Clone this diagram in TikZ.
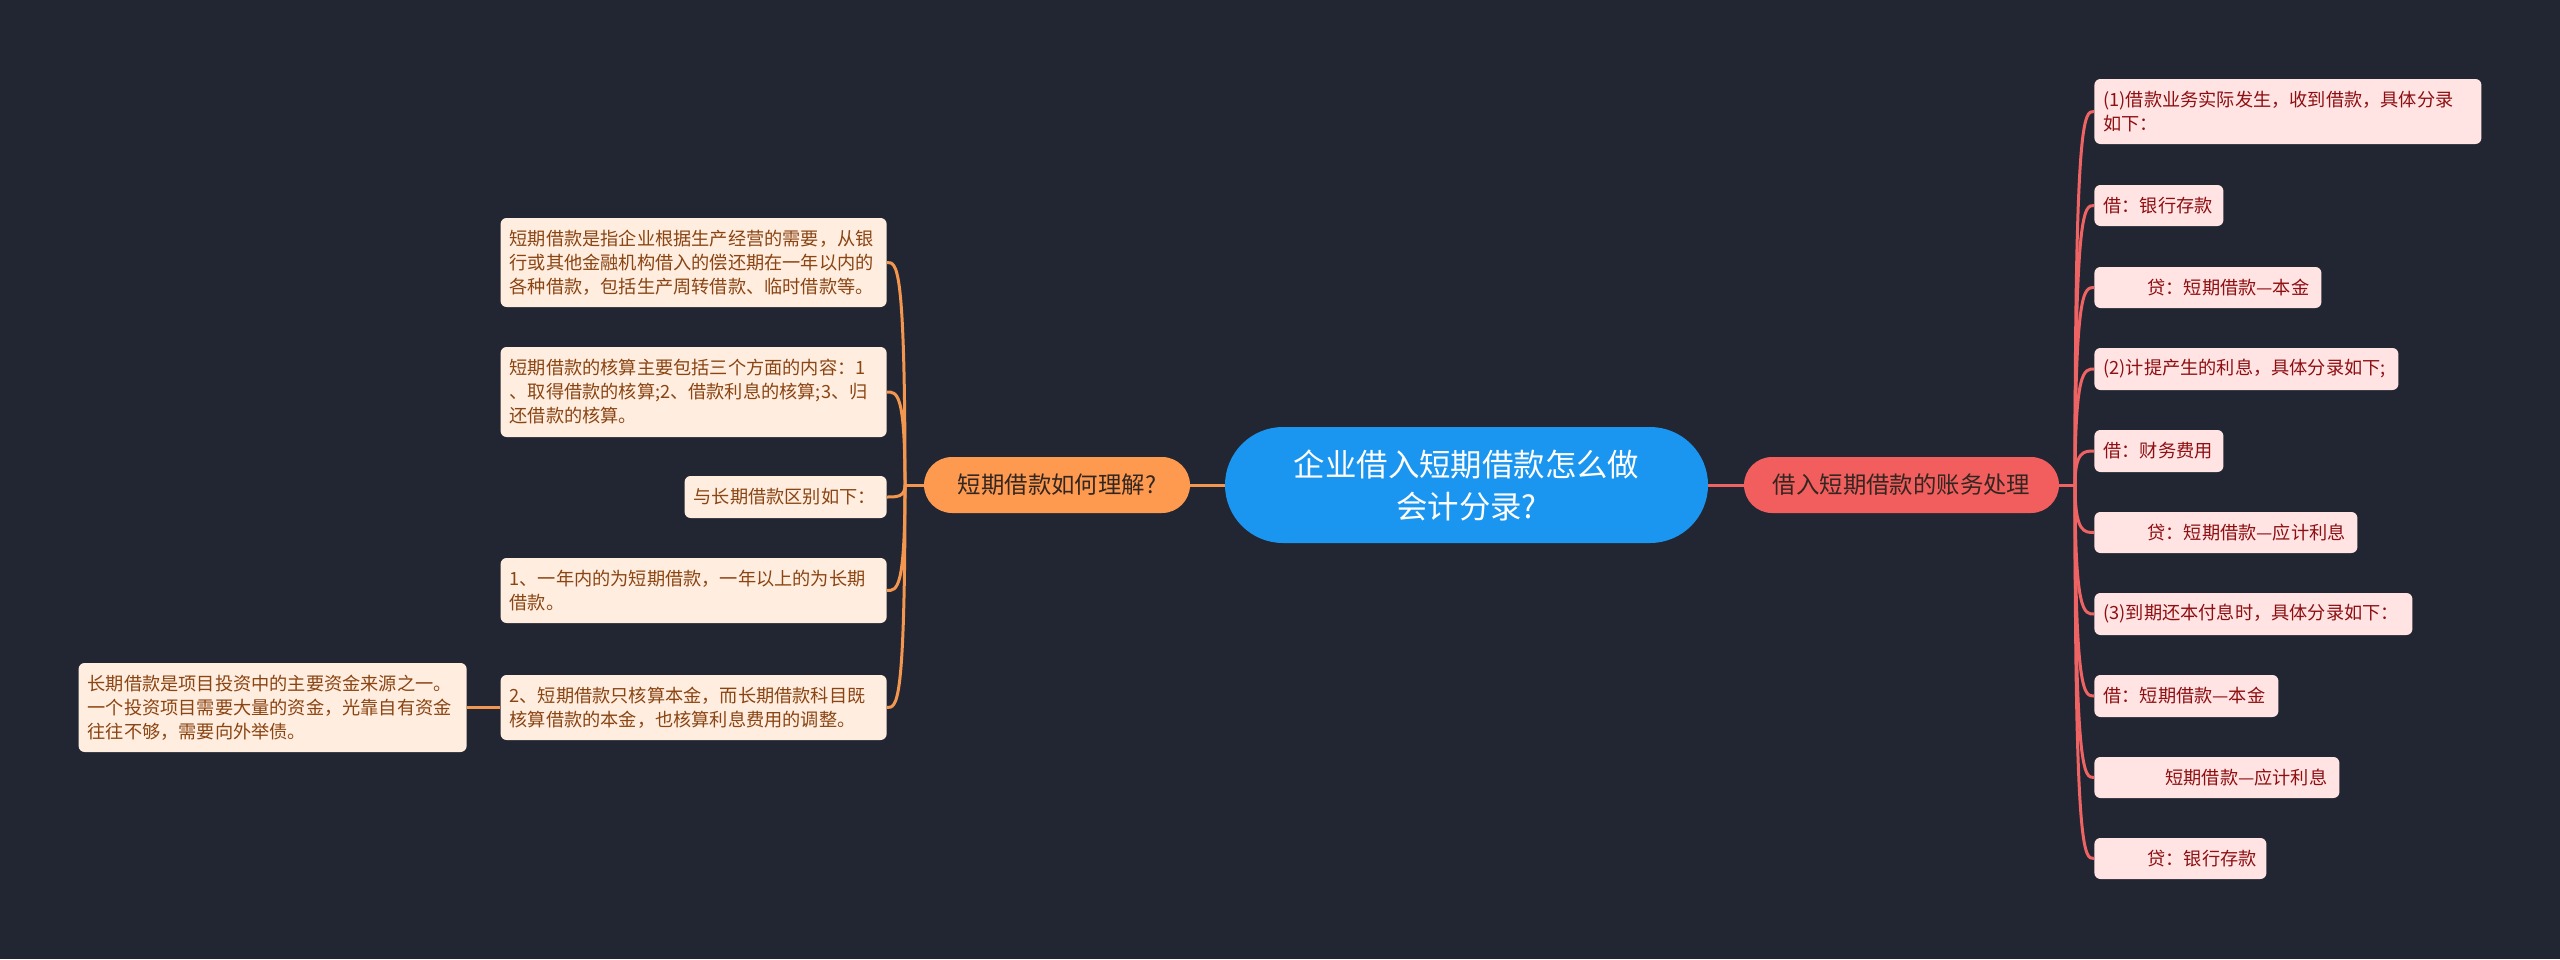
\documentclass[tikz,border=0pt]{standalone}
\usepackage{fontspec}
\newfontfamily\cjk{Noto Sans CJK SC}
\definecolor{bg}{HTML}{222632}
\definecolor{peach}{HTML}{FFEDE0}
\definecolor{brownt}{HTML}{8A4513}
\definecolor{orangep}{HTML}{FD9A50}
\definecolor{orangel}{HTML}{F3964F}
\definecolor{pinkf}{HTML}{FFE4E3}
\definecolor{redt}{HTML}{8E0F12}
\definecolor{redp}{HTML}{F25E5E}
\definecolor{redl}{HTML}{EE6363}
\definecolor{rootc}{HTML}{1B96F0}
\definecolor{darkt}{HTML}{332620}
\begin{document}
\begin{tikzpicture}[x=0.5pt,y=-0.5pt,
  leaf/.style={rectangle, rounded corners=3pt, inner xsep=4.5pt, inner ysep=0pt, align=left,
    font=\cjk\fontsize{9.1}{12}\selectfont},
  lbox/.style={leaf, fill=peach, text=brownt, anchor=east},
  rbox/.style={leaf, fill=pinkf, text=redt, anchor=west},
  pill/.style={rectangle, rounded corners=14pt, minimum height=28pt, inner sep=0pt,
    font=\cjk\fontsize{11.7}{14}\selectfont, text=darkt},
  oline/.style={draw=orangel, line width=1.5pt},
  rline/.style={draw=redl, line width=1.5pt}]
\path[fill=bg] (0,0) rectangle (2560,959);

% root and main branches
\node[rectangle, rounded corners=29pt, fill=rootc, text=white, minimum width=241.5pt, minimum height=58pt,
  inner sep=0pt, align=center, font=\cjk\fontsize{15.7}{21}\selectfont] (root) at (1466.5,485)
  {企业借入短期借款怎么做\\会计分录?};
\node[pill, fill=orangep, minimum width=133pt] (q1) at (1057,485) {短期借款如何理解?};
\node[pill, fill=redp, minimum width=157.5pt] (q2) at (1901.5,485) {借入短期借款的账务处理};

\coordinate (jl) at (905,485);
\coordinate (jr) at (2075,485);

% left leaves
\node[lbox, text width=184pt, minimum height=44.5pt] (L1) at (887,262.5)
  {短期借款是指企业根据生产经营的需要，从银\\行或其他金融机构借入的偿还期在一年以内的\\各种借款，包括生产周转借款、临时借款等。};
\node[lbox, text width=184pt, minimum height=45pt] (L2) at (887,392)
  {短期借款的核算主要包括三个方面的内容：1\\、取得借款的核算;2、借款利息的核算;3、归\\还借款的核算。};
\node[lbox, text width=92pt, minimum height=21pt] (L3) at (887,497)
  {与长期借款区别如下：};
\node[lbox, text width=184pt, minimum height=32.5pt] (L4) at (887,590.5)
  {1、一年内的为短期借款，一年以上的为长期\\借款。};
\node[lbox, text width=184pt, minimum height=32.5pt] (L5) at (887,707.5)
  {2、短期借款只核算本金，而长期借款科目既\\核算借款的本金，也核算利息费用的调整。};
\node[lbox, text width=185pt, minimum height=44.5pt] (LL) at (467,707.5)
  {长期借款是项目投资中的主要资金来源之一。\\一个投资项目需要大量的资金，光靠自有资金\\往往不够，需要向外举债。};

% right leaves
\node[rbox, text width=184.5pt, minimum height=32.5pt] (R1) at (2094,111.5)
  {(1)借款业务实际发生，收到借款，具体分录\\如下：};
\node[rbox, text width=55.5pt, minimum height=20.5pt] (R2) at (2094,205.5) {借：银行存款};
\node[rbox, text width=104.5pt, minimum height=20.5pt] (R3) at (2094,287.5) {\hspace*{22pt}贷：短期借款—本金};
\node[rbox, text width=143pt, minimum height=21pt] (R4) at (2094,369) {(2)计提产生的利息，具体分录如下;};
\node[rbox, text width=55.5pt, minimum height=21pt] (R5) at (2094,451) {借：财务费用};
\node[rbox, text width=122.5pt, minimum height=20.5pt] (R6) at (2094,532.5) {\hspace*{22pt}贷：短期借款—应计利息};
\node[rbox, text width=150pt, minimum height=21pt] (R7) at (2094,614) {(3)到期还本付息时，具体分录如下：};
\node[rbox, text width=83pt, minimum height=21pt] (R8) at (2094,696) {借：短期借款—本金};
\node[rbox, text width=113.5pt, minimum height=20.5pt] (R9) at (2094,777.5) {\hspace*{31pt}短期借款—应计利息};
\node[rbox, text width=77pt, minimum height=20.5pt] (R10) at (2094,858.5) {\hspace*{22pt}贷：银行存款};

% connectors
\draw[oline] (root.west) -- (q1.east);
\draw[oline] (q1.west) -- (jl);
\foreach \n in {L1,L2,L3,L4,L5}
  \draw[oline] (jl) .. controls (jl |- \n.east) and ([xshift=5pt]\n.east) .. (\n.east);
\draw[oline] (L5.west) -- (LL.east);

\draw[rline] (root.east) -- (q2.west);
\draw[rline] (q2.east) -- (jr);
\foreach \n in {R1,R2,R3,R4,R5,R6,R7,R8,R9,R10}
  \draw[rline] (jr) .. controls (jr |- \n.west) and ([xshift=-5pt]\n.west) .. (\n.west);
\end{tikzpicture}
\end{document}
